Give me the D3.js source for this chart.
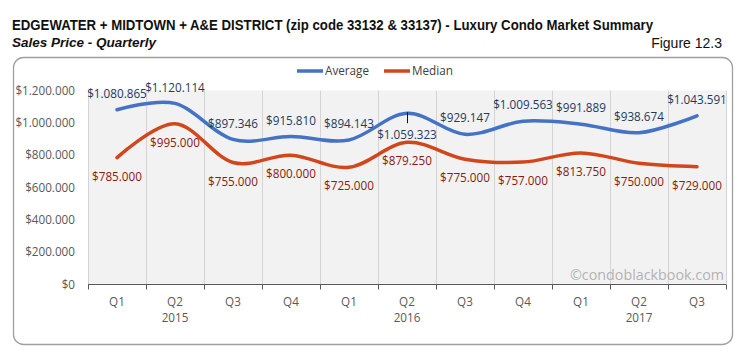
<!DOCTYPE html>
<html>
<head>
<meta charset="utf-8">
<script src="https://cdn.jsdelivr.net/npm/d3@7"></script>
<style>
  html, body { margin: 0; padding: 0; background: #fff; }
  svg { display: block; }
</style>
</head>
<body>
<div id="chart"></div>
<script>
// data
const quarters = ["Q1", "Q2", "Q3", "Q4", "Q1", "Q2", "Q3", "Q4", "Q1", "Q2", "Q3"]
const years = ["2015", "2015", "2015", "2015", "2016", "2016", "2016", "2016", "2017", "2017", "2017"]
const average = [1080865, 1120114, 897346, 915810, 894143, 1059323, 929147, 1009563, 991889, 938674, 1043591]
const median = [785000, 995000, 755000, 800000, 725000, 879250, 775000, 757000, 813750, 750000, 729000]
const yTicks = [0, 200000, 400000, 600000, 800000, 1000000, 1200000]

const W = 743, H = 361
const font = "'Open Sans', sans-serif"
const narrow = "'Liberation Sans Narrow', 'Arial Narrow', sans-serif"

const locale = d3.formatLocale({ decimal: ",", thousands: ".", grouping: [3], currency: ["$", ""] })
const money = locale.format("$,.0f")

const svg = d3.select("#chart").append("svg")
  .attr("width", W)
  .attr("height", H)

// titles
svg.append("text")
  .attr("x", 12).attr("y", 30)
  .attr("font-family", narrow)
  .attr("font-weight", "bold").attr("font-size", 14)
  .attr("textLength", 641).attr("lengthAdjust", "spacingAndGlyphs")
  .attr("fill", "#111")
  .text("EDGEWATER + MIDTOWN + A&E DISTRICT (zip code 33132 & 33137) - Luxury Condo Market Summary")

svg.append("text")
  .attr("x", 12).attr("y", 47)
  .attr("font-family", narrow)
  .attr("font-weight", "bold").attr("font-style", "italic").attr("font-size", 13.5)
  .attr("fill", "#111")
  .text("Sales Price - Quarterly")

svg.append("text")
  .attr("x", 722).attr("y", 48)
  .attr("text-anchor", "end")
  .attr("font-family", narrow)
  .attr("font-size", 14)
  .attr("fill", "#111")
  .text("Figure 12.3")

// outer frame
svg.append("rect")
  .attr("x", 13.5).attr("y", 57.5)
  .attr("width", 719).attr("height", 287)
  .attr("rx", 10)
  .attr("fill", "none")
  .attr("stroke", "#a0a0a0")
  .attr("stroke-width", 1.3)

// scales
const x = d3.scaleBand()
  .domain(d3.range(quarters.length))
  .range([88, 726])
  .padding(0)

const y = d3.scaleLinear()
  .domain([0, 1200000])
  .range([284.5, 90.5])

const cx = i => x(i) + x.bandwidth() / 2

// plot background + category grid
svg.append("rect")
  .attr("x", x.range()[0]).attr("y", y(1200000))
  .attr("width", x.range()[1] - x.range()[0])
  .attr("height", y(0) - y(1200000))
  .attr("fill", "#f2f2f2")

const bounds = d3.range(quarters.length + 1).map(i => i < quarters.length ? x(i) : x.range()[1])

svg.append("g")
  .selectAll("line")
  .data(bounds)
  .join("line")
  .attr("x1", d => Math.round(d) + 0.5).attr("x2", d => Math.round(d) + 0.5)
  .attr("y1", y(1200000)).attr("y2", y(0))
  .attr("stroke", "#d4d4d4")
  .attr("stroke-width", 1)

// y axis labels
svg.append("g")
  .selectAll("text")
  .data(yTicks)
  .join("text")
  .attr("x", 75)
  .attr("y", d => y(d))
  .attr("dy", "0.35em")
  .attr("text-anchor", "end")
  .attr("font-family", font)
  .attr("font-size", 11.7)
  .attr("fill", "#595959")
  .text(d => money(d))

// x axis line and ticks
svg.append("line")
  .attr("x1", x.range()[0]).attr("x2", x.range()[1])
  .attr("y1", y(0)).attr("y2", y(0))
  .attr("stroke", "#595959").attr("stroke-width", 1.2)

svg.append("g")
  .selectAll("line")
  .data(bounds)
  .join("line")
  .attr("x1", d => Math.round(d) + 0.5).attr("x2", d => Math.round(d) + 0.5)
  .attr("y1", y(0)).attr("y2", y(0) + 5)
  .attr("stroke", "#595959")

svg.append("g")
  .selectAll("text")
  .data(quarters)
  .join("text")
  .attr("x", (d, i) => cx(i))
  .attr("y", 302)
  .attr("dy", "0.35em")
  .attr("text-anchor", "middle")
  .attr("font-family", font).attr("font-size", 11.7)
  .attr("fill", "#595959")
  .text(d => d)

// year labels under the second quarter of each year
const yearPos = d3.rollups(d3.range(years.length), v => v, i => years[i])
svg.append("g")
  .selectAll("text")
  .data(yearPos)
  .join("text")
  .attr("x", d => cx(d[1][Math.min(1, d[1].length - 1)]))
  .attr("y", 318)
  .attr("dy", "0.35em")
  .attr("text-anchor", "middle")
  .attr("font-family", font).attr("font-size", 11.7)
  .attr("fill", "#595959")
  .text(d => d[0])

// watermark
svg.append("text")
  .attr("x", 724).attr("y", 280)
  .attr("text-anchor", "end")
  .attr("font-family", font).attr("font-size", 14.3)
  .attr("fill", "#b3b3b3")
  .text("©condoblackbook.com")

// lines
const line = d3.line()
  .x((d, i) => cx(i))
  .y(d => y(d))
  .curve(d3.curveCardinal.tension(0))

const series = [
  { name: "Average", values: average, color: "#4472c4", label: "#1f3a60" },
  { name: "Median", values: median, color: "#d2461c", label: "#8b1a10" }
]

svg.append("g")
  .selectAll("path")
  .data(series)
  .join("path")
  .attr("d", d => line(d.values))
  .attr("fill", "none")
  .attr("stroke", d => d.color)
  .attr("stroke-width", 3.5)
  .attr("stroke-linecap", "round")

// leader for the one average label placed under its point
const belowIdx = 5
svg.append("line")
  .attr("x1", cx(belowIdx) + 0.5).attr("x2", cx(belowIdx) + 0.5)
  .attr("y1", y(average[belowIdx]) - 1).attr("y2", y(average[belowIdx]) + 10)
  .attr("stroke", "#111").attr("stroke-width", 1)

// data labels
svg.append("g")
  .selectAll("text")
  .data(average)
  .join("text")
  .attr("x", (d, i) => cx(i))
  .attr("y", (d, i) => y(d) + (i === belowIdx ? 22 : -16))
  .attr("dy", "0.35em")
  .attr("text-anchor", "middle")
  .attr("font-family", font).attr("font-size", 11.7)
  .attr("fill", series[0].label)
  .text(d => money(d))

svg.append("g")
  .selectAll("text")
  .data(median)
  .join("text")
  .attr("x", (d, i) => cx(i))
  .attr("y", d => y(d) + 19)
  .attr("dy", "0.35em")
  .attr("text-anchor", "middle")
  .attr("font-family", font).attr("font-size", 11.7)
  .attr("fill", series[1].label)
  .text(d => money(d))

// legend
const legend = svg.append("g")
  .selectAll("g")
  .data(series)
  .join("g")
  .attr("transform", (d, i) => `translate(${i === 0 ? 297 : 384},71)`)

legend.append("line")
  .attr("x1", 0).attr("x2", 26)
  .attr("stroke", d => d.color)
  .attr("stroke-width", 3.5)

legend.append("text")
  .attr("x", 28)
  .attr("dy", "0.35em")
  .attr("font-family", font).attr("font-size", 11.7)
  .attr("fill", "#404040")
  .text(d => d.name)
</script>
</body>
</html>
